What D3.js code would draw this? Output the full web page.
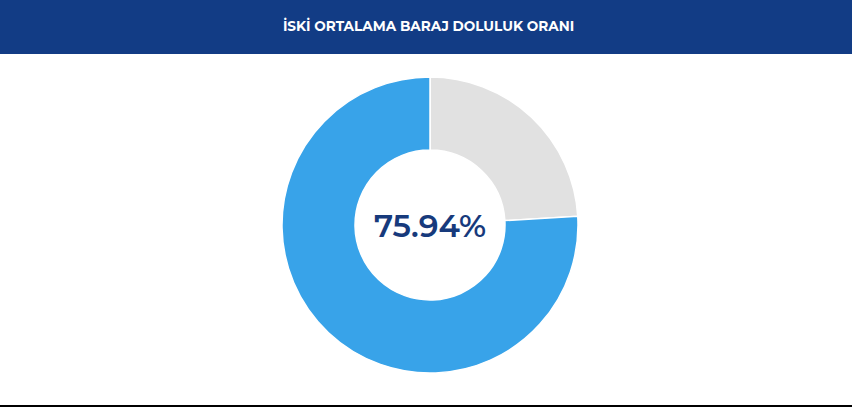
<!DOCTYPE html>
<html>
<head>
<meta charset="utf-8">
<script src="https://cdn.jsdelivr.net/npm/d3@7"></script>
<style>
  html, body { margin: 0; padding: 0; background: #fff; }
  svg { display: block; }
</style>
</head>
<body>
<svg width="852" height="407"></svg>
<script>
const title = "İSKİ ORTALAMA BARAJ DOLULUK ORANI";
const labels = ["Boş", "Dolu"];
const values = [24.06, 75.94];
const colors = ["#e1e1e1", "#38a3e9"];

const W = 852, H = 407;
const svg = d3.select('svg');

// header band
svg.append('rect')
    .attr('x', 0).attr('y', 0)
    .attr('width', W).attr('height', 54)
    .attr('fill', '#123c85');
svg.append('text')
    .attr('x', 428.5).attr('y', 30.5)
    .attr('text-anchor', 'middle')
    .attr('fill', '#fff')
    .attr('font-family', 'Montserrat, "Open Sans", sans-serif')
    .attr('font-weight', 700)
    .attr('font-size', 13.6)
    .text(title);

// donut
const pie = d3.pie().sort(null).value(d => d);
const arc = d3.arc().innerRadius(75).outerRadius(148);
const g = svg.append('g').attr('transform', 'translate(430,225)');
g.selectAll('path')
    .data(pie(values)).enter()
    .append('path')
    .attr('d', arc)
    .attr('fill', (d, i) => colors[i])
    .attr('stroke', '#fff')
    .attr('stroke-width', 1.5);

const pct = g.append('text')
    .attr('x', 0).attr('y', 12)
    .attr('text-anchor', 'middle')
    .attr('fill', '#173a7c')
    .attr('font-family', 'Montserrat, "Open Sans", sans-serif')
    .attr('font-weight', 600)
    .attr('font-size', 34)
    .text(values[1].toFixed(2) + '%');
// fit the number to the width measured on the reference
const bw = pct.node().getComputedTextLength();
pct.attr('font-size', 34 * 112 / bw);

// bottom rule
svg.append('rect')
    .attr('x', 0).attr('y', 405)
    .attr('width', W).attr('height', 2)
    .attr('fill', '#000');
</script>
</body>
</html>
